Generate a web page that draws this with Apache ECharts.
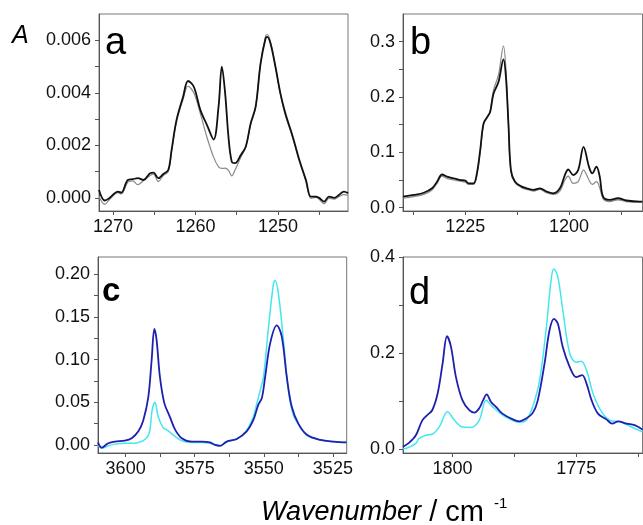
<!DOCTYPE html>
<html><head><meta charset="utf-8">
<script src="https://cdn.jsdelivr.net/npm/echarts@6/dist/echarts.min.js"></script>
<style>html,body{margin:0;padding:0;background:#fff}#c{width:643px;height:525px}</style>
</head><body><div id="c"></div>
<script>
// Panel a
const aWn = [1271.7,1271.0,1270.4,1269.4,1269.0,1268.2,1267.6,1267.0,1266.3,1265.5,1265.1,1264.5,1263.9,1263.3,1262.9,1262.3,1261.5,1260.9,1260.2,1259.4,1258.6,1257.8,1257.2,1256.8,1256.4,1256.0,1255.6,1255.2,1254.5,1253.9,1253.3,1252.7,1252.1,1251.5,1251.3,1250.9,1250.3,1249.7,1249.1,1248.2,1247.4,1246.6,1246.0,1245.4,1245.0,1244.4,1243.8,1243.2,1242.6,1242.0,1241.5];
const aBlack = [0.0003,-0.0001,0.0000,0.00024,0.0002,0.00068,0.00071,0.00075,0.00068,0.00094,0.00096,0.00075,0.00091,0.00106,0.00182,0.00296,0.00385,0.00445,0.00423,0.00334,0.00277,0.00222,0.00347,0.0050,0.00398,0.00233,0.00138,0.00132,0.00163,0.00195,0.00284,0.00347,0.00512,0.00607,0.00613,0.00588,0.00499,0.00398,0.00322,0.00233,0.00144,0.00068,0.00005,0.00005,0.0000,-0.00014,0.00005,0.0000,0.00011,0.00024,0.00018];
const aGray = [0.00005,-0.00025,-0.00005,0.0002,0.00015,0.0006,0.00065,0.0005,0.00066,0.00085,0.0009,0.00062,0.00085,0.001,0.00175,0.0029,0.00375,0.00425,0.004,0.0032,0.0023,0.00155,0.00118,0.00112,0.00113,0.00105,0.00084,0.00106,0.00155,0.00195,0.0028,0.00345,0.00515,0.00615,0.00622,0.00595,0.005,0.00395,0.00315,0.00228,0.0014,0.00062,-0.00002,0.00002,-0.00005,-0.00022,-0.00002,-0.00005,0.00005,0.00012,0.0001];
// Panel b
const bWn = [1240,1237.4,1235.0,1233.0,1231.8,1230.6,1229.4,1227.8,1226.2,1225.0,1224.2,1223.0,1222.2,1221.4,1220.6,1219.7,1219.0,1218.2,1217.0,1215.8,1215.2,1214.6,1214.0,1213.0,1211.4,1210.2,1208.6,1207.0,1205.4,1203.8,1202.2,1201.0,1200.2,1199.0,1197.8,1196.5,1195.2,1194.4,1193.4,1192.6,1191.8,1190.2,1188.2,1186.2,1183.0,1182.3];
const bBlack = [0.020,0.023,0.027,0.035,0.047,0.060,0.056,0.053,0.050,0.049,0.044,0.044,0.062,0.104,0.152,0.164,0.173,0.206,0.227,0.268,0.236,0.152,0.068,0.047,0.038,0.035,0.032,0.035,0.029,0.026,0.035,0.059,0.069,0.059,0.068,0.110,0.074,0.062,0.074,0.056,0.020,0.014,0.017,0.013,0.011,0.011];
const bGray = [0.017,0.020,0.024,0.032,0.044,0.057,0.053,0.050,0.048,0.046,0.042,0.042,0.058,0.100,0.150,0.163,0.175,0.212,0.240,0.292,0.250,0.150,0.064,0.045,0.036,0.033,0.030,0.033,0.027,0.024,0.030,0.050,0.057,0.044,0.047,0.068,0.050,0.042,0.047,0.036,0.016,0.011,0.014,0.011,0.010,0.010];
// Panel c
const cWnBlue = [3610,3608.7,3606.3,3603.9,3600.3,3597.8,3595.4,3593.6,3591.8,3590.6,3589.6,3588.8,3587.6,3586.0,3584.0,3582.1,3579.7,3576.1,3572.5,3569.5,3567.6,3565.8,3563.4,3559.8,3556.2,3553.8,3552.0,3550.7,3549.5,3547.7,3545.3,3543.5,3541.7,3539.9,3537.5,3534.4,3529.6,3524.8,3520];
const cBlue = [0.003,-0.003,0.002,0.004,0.005,0.008,0.016,0.029,0.056,0.099,0.136,0.123,0.080,0.049,0.033,0.018,0.008,0.004,0.004,0.003,0.000,-0.001,0.004,0.007,0.016,0.029,0.047,0.055,0.080,0.119,0.140,0.127,0.080,0.045,0.025,0.012,0.006,0.004,0.003];
const cWnCyan = [3610,3608.7,3606.3,3603.9,3600.3,3597.8,3595.4,3593.6,3592.0,3591.2,3590.4,3589.4,3588.2,3586.4,3585.2,3584.0,3582.1,3579.7,3576.1,3572.5,3569.5,3567.6,3565.8,3563.4,3559.8,3556.2,3553.8,3552.5,3551.3,3550.1,3548.3,3546.5,3545.9,3544.7,3542.9,3541.1,3539.3,3536.2,3534.4,3529.6,3524.8,3520];
const cCyan = [0.000,-0.004,-0.001,0.001,0.002,0.002,0.003,0.005,0.010,0.018,0.041,0.050,0.033,0.020,0.018,0.015,0.010,0.005,0.003,0.003,0.002,0.000,-0.001,0.004,0.007,0.017,0.033,0.049,0.064,0.080,0.138,0.189,0.193,0.177,0.123,0.064,0.035,0.018,0.011,0.006,0.004,0.003];
// Panel d
const dWnBlue = [1810,1808.8,1807.4,1806.1,1805.1,1804.1,1803.0,1802.0,1801.1,1800.3,1799.3,1798.0,1796.6,1795.6,1794.6,1793.8,1793.1,1792.2,1791.2,1789.9,1787.8,1786.5,1785.1,1783.8,1782.8,1781.4,1780.4,1779.5,1778.7,1777.7,1776.3,1775.0,1773.8,1772.9,1771.9,1770.6,1768.9,1767.7,1766.5,1764.8,1763.2,1761.6];
const dBlue = [0.005,0.013,0.029,0.060,0.071,0.081,0.116,0.178,0.235,0.213,0.150,0.102,0.081,0.076,0.085,0.102,0.114,0.098,0.088,0.074,0.062,0.058,0.064,0.075,0.100,0.178,0.247,0.271,0.261,0.212,0.171,0.150,0.154,0.136,0.102,0.074,0.062,0.053,0.058,0.053,0.050,0.041];
const dWnCyan = [1810,1808.8,1807.4,1806.8,1805.4,1804.1,1802.7,1801.0,1799.6,1798.0,1796.3,1794.6,1793.2,1791.9,1789.4,1786.5,1785.1,1783.8,1782.4,1781.1,1780.0,1779.5,1778.7,1777.7,1776.3,1775.0,1774.0,1772.9,1771.6,1769.9,1768.2,1766.2,1763.8,1761.6];
const dCyan = [0.000,0.004,0.012,0.022,0.029,0.031,0.046,0.078,0.060,0.046,0.045,0.060,0.102,0.088,0.068,0.056,0.060,0.088,0.143,0.247,0.358,0.375,0.358,0.289,0.199,0.181,0.183,0.164,0.116,0.078,0.060,0.057,0.046,0.036];
// ticks
const aXMajor = [1270,1260,1250], aXMinor = [1265,1255,1245];
const aYMajor = [0,0.002,0.004,0.006], aYMinor = [0.001,0.003,0.005];
const bXMajor = [1225,1200], bXMinor = [1237.5,1212.5,1187.5];
const bYMajor = [0,0.1,0.2,0.3], bYMinor = [0.05,0.15,0.25];
const cXMajor = [3600,3575,3550,3525], cXMinor = [3587.5,3562.5,3537.5];
const cYMajor = [0,0.05,0.10,0.15,0.20], cYMinor = [0.025,0.075,0.125,0.175];
const dXMajor = [1800,1775], dXMinor = [1787.5,1762.5];
const dYMajor = [0,0.2,0.4], dYMinor = [0.1,0.3];

const FONT = "'Liberation Sans', Arial, sans-serif";
const pair = (w, v) => w.map((x, i) => [x, v[i]]);

const panels = [
  {grid:{left:99,top:14,width:249,height:197}, x:[1241.5,1271.7], y:[-0.0005,0.007], xM:aXMajor, xm:aXMinor, yM:aYMajor, ym:aYMinor, dec:3},
  {grid:{left:403,top:14,width:239.5,height:197}, x:[1182.3,1240], y:[-0.006,0.35], xM:bXMajor, xm:bXMinor, yM:bYMajor, ym:bYMinor, dec:1},
  {grid:{left:98,top:257,width:248.7,height:196}, x:[3520,3610], y:[-0.0094,0.2202], xM:cXMajor, xm:cXMinor, yM:cYMajor, ym:cYMinor, dec:2},
  {grid:{left:403,top:257,width:239.5,height:196}, x:[1761.6,1810], y:[-0.008,0.4], xM:dXMajor, xm:dXMinor, yM:dYMajor, ym:dYMinor, dec:1}
];
const grids = [], xAxes = [], yAxes = [];
panels.forEach((p, i) => {
  grids.push(Object.assign({show:true, borderColor:'#777', borderWidth:1, backgroundColor:'transparent'}, p.grid));
  const lineStyle = {color:'#555', width:1};
  xAxes.push({type:'value', gridIndex:i, position:'bottom', inverse:true, min:p.x[0], max:p.x[1],
    axisLine:{show:true, onZero:false, lineStyle}, splitLine:{show:false},
    axisTick:{show:true, length:4, lineStyle, customValues:p.xM.concat(p.xm)},
    axisLabel:{show:true, customValues:p.xM, margin:7, fontSize:18, color:'#111', fontFamily:FONT, formatter:v=>String(Math.round(v))}});
  yAxes.push({type:'value', gridIndex:i, position:'left', min:p.y[0], max:p.y[1],
    axisLine:{show:true, onZero:false, lineStyle}, splitLine:{show:false},
    axisTick:{show:true, length:4, lineStyle, customValues:p.yM.concat(p.ym)},
    axisLabel:{show:true, customValues:p.yM, margin:8, fontSize:18, color:'#111', fontFamily:FONT, formatter:v=>v.toFixed(p.dec)}});
});
const mk = (i, data, color, width) => ({type:'line', xAxisIndex:i, yAxisIndex:i, data, showSymbol:false, smooth:0.35,
  lineStyle:{color, width}, itemStyle:{color}, animation:false, silent:true});
const series = [
  mk(0, pair(aWn, aGray), '#8a8a8a', 1.2),
  mk(0, pair(aWn, aBlack), '#111111', 1.8),
  mk(1, pair(bWn, bGray), '#8a8a8a', 1.2),
  mk(1, pair(bWn, bBlack), '#111111', 1.8),
  mk(2, pair(cWnCyan, cCyan), '#45e6ee', 1.5),
  mk(2, pair(cWnBlue, cBlue), '#1f1fb0', 1.8),
  mk(3, pair(dWnCyan, dCyan), '#45e6ee', 1.5),
  mk(3, pair(dWnBlue, dBlue), '#1f1fb0', 1.8)
];
const letter = (t, x, y, font) => ({type:'text', left:x, top:y, style:{text:t, font, fill:'#000'}});
const chart = echarts.init(document.getElementById('c'), null, {renderer:'canvas'});
chart.setOption({
  animation:false, backgroundColor:'#fff',
  grid:grids, xAxis:xAxes, yAxis:yAxes, series,
  graphic:[
    letter('a', 105, 25, "38px "+FONT),
    letter('b', 410, 25, "38px "+FONT),
    letter('c', 102, 275, "bold 33px "+FONT),
    letter('d', 409, 275, "38px "+FONT),
    letter('A', 12, 24, "italic 25px "+FONT),
    {type:'text', left:261, top:496, style:{rich:{i:{fontStyle:'italic', fontSize:27, fontFamily:FONT, fill:'#000'}, n:{fontSize:29, fontFamily:FONT, fill:'#000'}, s:{fontSize:15, fontFamily:FONT, fill:'#000', verticalAlign:'top', padding:[0,0,18,10]}},
      text:'{i|Wavenumber}{n| / cm}{s|-1}'}}
  ]
});
</script></body></html>
